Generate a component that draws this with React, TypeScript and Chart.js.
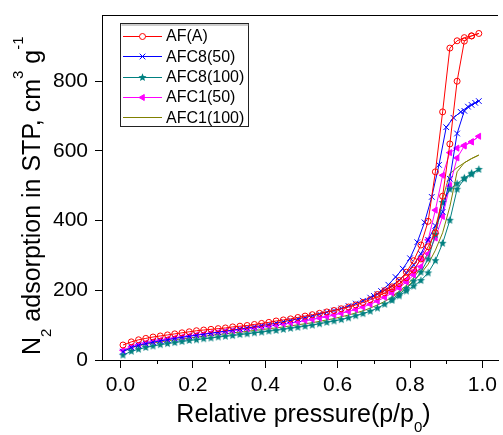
import React, { useEffect, useRef } from 'react';
import { Chart, registerables } from 'chart.js';

Chart.register(...registerables);

const FONT = '"Liberation Sans", Arial, Helvetica, sans-serif';

const SERIES_NAMES = ['AF(A)', 'AFC8(50)', 'AFC8(100)', 'AFC1(50)', 'AFC1(100)'];
const COLORS = ['#FF0000', '#0000FF', '#008080', '#FF00FF', '#808000'];

const X_TICKS = [0, 0.2, 0.4, 0.6, 0.8, 1.0];
const X_MINOR_TICKS = [0.1, 0.3, 0.5, 0.7, 0.9];
const Y_TICKS = [0, 200, 400, 600, 800];

// adsorption branch relative pressures (shared)
const P_ADS = [
  0.007, 0.03, 0.05, 0.07, 0.09, 0.11, 0.13, 0.15, 0.17, 0.19,
  0.21, 0.23, 0.25, 0.27, 0.29, 0.31, 0.33, 0.35, 0.37, 0.39,
  0.41, 0.43, 0.45, 0.47, 0.49, 0.51, 0.53, 0.55, 0.57, 0.59,
  0.61, 0.63, 0.65, 0.67, 0.69, 0.71, 0.73, 0.75, 0.77, 0.79,
  0.81, 0.83, 0.85, 0.87, 0.89, 0.91, 0.93, 0.95, 0.97, 0.99,
];

// AF(A)
const AFA_ADS = [
  43, 52, 58, 62, 66, 69, 72, 75, 78, 81,
  84, 86, 88, 90, 92, 95, 97, 99, 102, 105,
  108, 112, 115, 118, 122, 126, 130, 134, 138, 142,
  147, 152, 158, 165, 173, 182, 193, 205, 219, 236,
  258, 290, 325, 365, 470, 620, 800, 915, 930, 937,
];
const AFA_DES_P = [0.97, 0.95, 0.93, 0.91, 0.89, 0.87, 0.85, 0.83, 0.81, 0.79, 0.77, 0.75, 0.73, 0.71];
const AFA_DES_V = [930, 925, 916, 895, 712, 540, 398, 330, 285, 252, 228, 210, 199, 188];

// AFC8(50)
const AFC8_50_ADS = [
  24, 36, 42, 47, 51, 55, 58, 62, 65, 68,
  71, 74, 77, 80, 83, 86, 89, 92, 95, 99,
  102, 106, 110, 114, 118, 122, 127, 132, 137, 142,
  148, 155, 162, 170, 179, 189, 200, 213, 229, 249,
  273, 305, 345, 385, 425, 520, 650, 715, 732, 743,
];
const AFC8_50_DES_P = [0.98, 0.96, 0.94, 0.92, 0.90, 0.88, 0.86, 0.84, 0.82, 0.80, 0.78, 0.76, 0.74, 0.72, 0.70];
const AFC8_50_DES_V = [738, 727, 712, 695, 668, 560, 468, 395, 338, 292, 262, 238, 216, 198, 184];

// AFC8(100)
const AFC8_100_ADS = [
  14, 25, 31, 36, 40, 44, 47, 50, 53, 56,
  58, 61, 63, 66, 68, 70, 73, 75, 78, 80,
  83, 85, 88, 91, 94, 97, 100, 104, 108, 112,
  116, 121, 127, 133, 140, 149, 160, 171, 184, 198,
  212, 228, 250, 285, 335, 401, 490, 520, 533, 547,
];
const AFC8_100_DES_P = [0.97, 0.95, 0.93, 0.91, 0.89, 0.87, 0.85, 0.83, 0.81, 0.79, 0.77, 0.75];
const AFC8_100_DES_V = [536, 522, 506, 490, 452, 360, 290, 252, 226, 205, 189, 175];

// AFC1(50)
const AFC1_50_ADS = [
  28, 38, 44, 49, 53, 57, 60, 63, 66, 69,
  72, 74, 77, 79, 82, 84, 87, 89, 92, 95,
  97, 100, 103, 106, 109, 113, 116, 120, 124, 129,
  134, 139, 145, 152, 160, 169, 180, 192, 207, 224,
  244, 268, 305, 350, 412, 500, 580, 614, 626, 642,
];
const AFC1_50_DES_P = [0.97, 0.95, 0.93, 0.91, 0.89, 0.87, 0.85, 0.83, 0.81, 0.79, 0.77, 0.75];
const AFC1_50_DES_V = [626, 616, 608, 595, 530, 430, 345, 290, 255, 230, 210, 196];

// AFC1(100)
const AFC1_100_ADS = [
  24, 35, 41, 45, 49, 52, 55, 58, 61, 63,
  66, 68, 71, 73, 75, 78, 80, 82, 85, 87,
  90, 92, 95, 98, 101, 104, 107, 111, 115, 119,
  124, 129, 135, 141, 149, 158, 168, 180, 194, 209,
  227, 248, 275, 315, 365, 440, 540, 566, 578, 588,
];
const AFC1_100_DES_P = [0.97, 0.95, 0.93, 0.91, 0.89, 0.87, 0.85, 0.83, 0.81, 0.79, 0.77, 0.75];
const AFC1_100_DES_V = [578, 566, 552, 535, 462, 380, 310, 265, 236, 214, 197, 183];

const ADS = [AFA_ADS, AFC8_50_ADS, AFC8_100_ADS, AFC1_50_ADS, AFC1_100_ADS];
const DES_P = [AFA_DES_P, AFC8_50_DES_P, AFC8_100_DES_P, AFC1_50_DES_P, AFC1_100_DES_P];
const DES_V = [AFA_DES_V, AFC8_50_DES_V, AFC8_100_DES_V, AFC1_50_DES_V, AFC1_100_DES_V];

function makeStar(color: string, r: number): HTMLCanvasElement {
  const c = document.createElement('canvas');
  const size = Math.ceil(r * 2) + 2;
  c.width = size;
  c.height = size;
  const g = c.getContext('2d')!;
  g.fillStyle = color;
  g.beginPath();
  for (let i = 0; i < 10; i++) {
    const ang = -Math.PI / 2 + (i * Math.PI) / 5;
    const rad = i % 2 === 0 ? r : r * 0.45;
    g.lineTo(size / 2 + rad * Math.cos(ang), size / 2 + rad * Math.sin(ang));
  }
  g.closePath();
  g.fill();
  return c;
}

function drawMarker(ctx: CanvasRenderingContext2D, i: number, x: number, y: number, star: HTMLCanvasElement) {
  const col = COLORS[i];
  ctx.save();
  ctx.strokeStyle = col;
  ctx.fillStyle = col;
  ctx.lineWidth = 1;
  if (i === 0) {
    ctx.beginPath();
    ctx.arc(x, y, 3, 0, Math.PI * 2);
    ctx.fillStyle = '#fff';
    ctx.fill();
    ctx.stroke();
  } else if (i === 1) {
    const r = 4 * Math.SQRT1_2;
    ctx.beginPath();
    ctx.moveTo(x - r, y - r); ctx.lineTo(x + r, y + r);
    ctx.moveTo(x - r, y + r); ctx.lineTo(x + r, y - r);
    ctx.stroke();
  } else if (i === 2) {
    ctx.drawImage(star, x - star.width / 2, y - star.height / 2);
  } else if (i === 3) {
    const r = 3.5;
    ctx.beginPath();
    ctx.moveTo(x - r, y);
    ctx.lineTo(x + r * 0.5, y - r * 0.866);
    ctx.lineTo(x + r * 0.5, y + r * 0.866);
    ctx.closePath();
    ctx.fill();
    ctx.stroke();
  }
  ctx.restore();
}

export default function App() {
  const ref = useRef<HTMLCanvasElement | null>(null);

  useEffect(() => {
    if (!ref.current) return;
    const star = makeStar(COLORS[2], 4.2);

    const datasets = SERIES_NAMES.map((name, i) => {
      const data = P_ADS.map((p, k) => ({ x: p, y: ADS[i][k] })).concat(
        DES_P[i].map((p, k) => ({ x: p, y: DES_V[i][k] }))
      );
      const base: any = {
        label: name,
        data,
        showLine: true,
        borderColor: COLORS[i],
        borderWidth: 1,
        pointBorderColor: COLORS[i],
        pointBorderWidth: 1,
        tension: 0,
      };
      if (i === 0) {
        Object.assign(base, { pointStyle: 'circle', pointRadius: 3, pointBackgroundColor: 'rgba(0,0,0,0)' });
      } else if (i === 1) {
        Object.assign(base, { pointStyle: 'crossRot', pointRadius: 4, pointBackgroundColor: COLORS[i] });
      } else if (i === 2) {
        Object.assign(base, { pointStyle: star, pointRadius: 4, pointBackgroundColor: COLORS[i] });
      } else if (i === 3) {
        Object.assign(base, { pointStyle: 'triangle', pointRotation: -90, pointRadius: 3.5, pointBackgroundColor: COLORS[i] });
      } else {
        Object.assign(base, { pointRadius: 0 });
      }
      return base;
    });

    const framePlugin = {
      id: 'frame',
      afterDraw(chart: any) {
        const { ctx, chartArea, scales } = chart;
        const xs = scales.x;
        ctx.save();
        ctx.strokeStyle = '#000';
        ctx.lineWidth = 1;
        ctx.beginPath();
        ctx.moveTo(chartArea.left, chartArea.top + 0.5);
        ctx.lineTo(chartArea.right, chartArea.top + 0.5);
        for (const v of X_MINOR_TICKS) {
          const px = Math.round(xs.getPixelForValue(v)) + 0.5;
          ctx.moveTo(px, chartArea.bottom);
          ctx.lineTo(px, chartArea.bottom + 4);
        }
        ctx.stroke();

        // legend
        const lx = 120.5, ly = 23.5, lw = 128, lh = 103;
        ctx.fillStyle = '#fff';
        ctx.fillRect(lx, ly, lw, lh);
        ctx.strokeStyle = '#222';
        ctx.strokeRect(lx, ly, lw, lh);
        ctx.strokeStyle = '#999';
        ctx.beginPath();
        ctx.moveTo(lx + 1, ly + 1.5);
        ctx.lineTo(lx + lw, ly + 1.5);
        ctx.stroke();
        ctx.font = `16px ${FONT}`;
        ctx.textBaseline = 'middle';
        ctx.textAlign = 'left';
        SERIES_NAMES.forEach((name, i) => {
          const cy = 36 + i * 20.3;
          ctx.strokeStyle = COLORS[i];
          ctx.lineWidth = 1;
          ctx.beginPath();
          ctx.moveTo(123, Math.round(cy) + 0.5);
          ctx.lineTo(162, Math.round(cy) + 0.5);
          ctx.stroke();
          drawMarker(ctx, i, 142.5, Math.round(cy) + 0.5, star);
          ctx.fillStyle = '#000';
          ctx.fillText(name, 166, cy + 1);
        });

        // axis titles
        ctx.fillStyle = '#000';
        ctx.textBaseline = 'alphabetic';
        ctx.textAlign = 'left';
        // y title
        ctx.save();
        ctx.translate(40, 355);
        ctx.rotate(-Math.PI / 2);
        let cx = 0;
        const segY = (t: string, size: number, dy: number) => {
          ctx.font = `${size}px ${FONT}`;
          ctx.fillText(t, cx, dy);
          cx += ctx.measureText(t).width;
        };
        segY('N', 25, 0);
        segY('2', 15, 11);
        segY(' adsorption in STP, cm', 25, 0);
        segY('3', 15, -17);
        segY(' g', 25, 0);
        segY('-1', 15, -17);
        ctx.restore();

        // x title
        const parts: [string, number, number][] = [
          ['Relative pressure(p/p', 25, 0],
          ['0', 15, 10],
          [')', 25, 0],
        ];
        let total = 0;
        for (const [t, s] of parts) {
          ctx.font = `${s}px ${FONT}`;
          total += ctx.measureText(t).width;
        }
        let tx = 303.5 - total / 2;
        for (const [t, s, dy] of parts) {
          ctx.font = `${s}px ${FONT}`;
          ctx.fillText(t, tx, 422 + dy);
          tx += ctx.measureText(t).width;
        }
        ctx.restore();
      },
    };

    const zeroPad = (s: any) => {
      s.paddingTop = 0;
      s.paddingBottom = 0;
      s.paddingLeft = 0;
      s.paddingRight = 0;
    };

    const chart = new Chart(ref.current, {
      type: 'scatter',
      data: { datasets },
      options: {
        responsive: false,
        animation: false,
        layout: { padding: { top: 15, left: 0, right: 0, bottom: 0 } },
        plugins: { legend: { display: false }, tooltip: { enabled: false } },
        scales: {
          x: {
            type: 'linear',
            min: -0.051,
            max: 1.043,
            afterBuildTicks: (s: any) => {
              s.ticks = X_TICKS.map((v) => ({ value: v }));
            },
            afterFit: (s: any) => {
              s.height = 75;
              zeroPad(s);
            },
            ticks: {
              font: { family: FONT, size: 21 },
              color: '#000',
              padding: 5,
              maxRotation: 0,
              autoSkip: false,
              callback: (v: any) => Number(v).toFixed(1),
            },
            grid: { display: true, drawOnChartArea: false, drawTicks: true, tickLength: 8, color: '#000', lineWidth: 1 },
            border: { display: true, color: '#000', width: 1 },
          },
          y: {
            type: 'linear',
            min: 0,
            max: 990,
            afterBuildTicks: (s: any) => {
              s.ticks = Y_TICKS.map((v) => ({ value: v }));
            },
            afterFit: (s: any) => {
              s.width = 102;
              zeroPad(s);
            },
            ticks: {
              font: { family: FONT, size: 21 },
              color: '#000',
              padding: 7,
              autoSkip: false,
              callback: (v: any) => String(v),
            },
            grid: { display: true, drawOnChartArea: false, drawTicks: true, tickLength: 7, color: '#000', lineWidth: 1 },
            border: { display: true, color: '#000', width: 1 },
          },
        },
      },
      plugins: [framePlugin],
    });

    return () => chart.destroy();
  }, []);

  return (
    <div style={{ position: 'fixed', left: 0, top: 0, width: 503, height: 435, background: '#fff' }}>
      <canvas ref={ref} width={503} height={435} />
    </div>
  );
}
